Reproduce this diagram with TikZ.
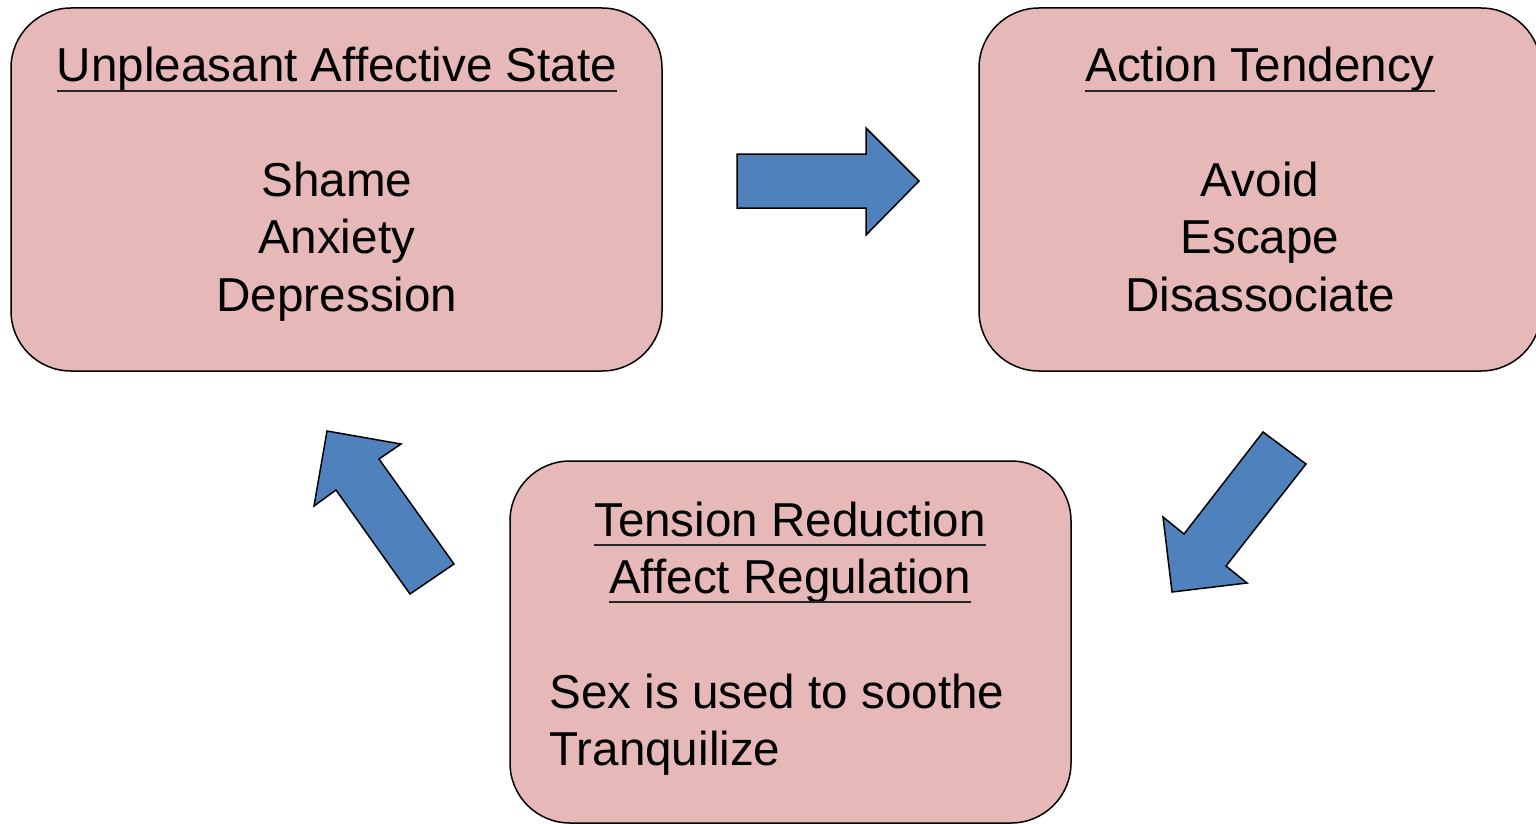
\documentclass[tikz,border=0pt]{standalone}
\usepackage{fontspec}
\setmainfont{Liberation Sans}
\definecolor{boxpink}{HTML}{E6B9B8}
\definecolor{arrowblue}{HTML}{4F81BD}
\begin{document}
\begin{tikzpicture}[x=0.5pt,y=-0.5pt,
  box/.style={draw=black, line width=0.75pt, fill=boxpink, rounded corners=30pt},
  blk/.style={draw=black, line width=0.75pt, fill=arrowblue, line join=miter},
  txt/.style={inner sep=0pt, anchor=base, font=\fontsize{23.8}{28}\selectfont},
  ltxt/.style={txt, anchor=base west},
  ul/.style={line width=0.65pt, draw=black!85}]
\useasboundingbox (0,0) rectangle (1536,824);
% boxes
\draw[box] (11,8) rectangle (662,371);
\draw[box] (979,8) rectangle (1541,371);
\draw[box] (510,461) rectangle (1071,823);
% box 1
\node[txt] (t1) at (337,82) {Unpleasant Affective State};
\draw[ul] ([yshift=-4.5pt]t1.base west) -- ([yshift=-4.5pt]t1.base east);
\node[txt] (s1) at (337,196) {Shame};
\node[txt] (s2) at (337,253) {Anxiety};
\node[txt] (s3) at (337,311) {Depression};
% box 2
\node[txt] (t2) at (1260,82) {Action Tendency};
\draw[ul] ([yshift=-4.5pt]t2.base west) -- ([yshift=-4.5pt]t2.base east);
\node[txt] (a1) at (1260,196) {Avoid};
\node[txt] (a2) at (1260,253) {Escape};
\node[txt] (a3) at (1260,311) {Disassociate};
% box 3
\node[txt] (t3) at (790,536) {Tension Reduction};
\draw[ul] ([yshift=-4.5pt]t3.base west) -- ([yshift=-4.5pt]t3.base east);
\node[txt] (t4) at (790,593) {Affect Regulation};
\draw[ul] ([yshift=-4.5pt]t4.base west) -- ([yshift=-4.5pt]t4.base east);
\node[ltxt] (r1) at (549,708) {Sex is used to soothe};
\node[ltxt] (r2) at (549,765) {Tranquilize};
% block arrows
\draw[blk] (737,154) -- (866,154) -- (866,128) -- (919,181) -- (866,235) -- (866,208) -- (737,208) -- cycle;
\draw[blk] (1263,432) -- (1306,464) -- (1226,566) -- (1247,583) -- (1172,592) -- (1163,517) -- (1184,534) -- cycle;
\draw[blk] (454,564) -- (410,594) -- (336,490) -- (314,506) -- (327,431) -- (401,444) -- (379,459) -- cycle;
\end{tikzpicture}
\end{document}
